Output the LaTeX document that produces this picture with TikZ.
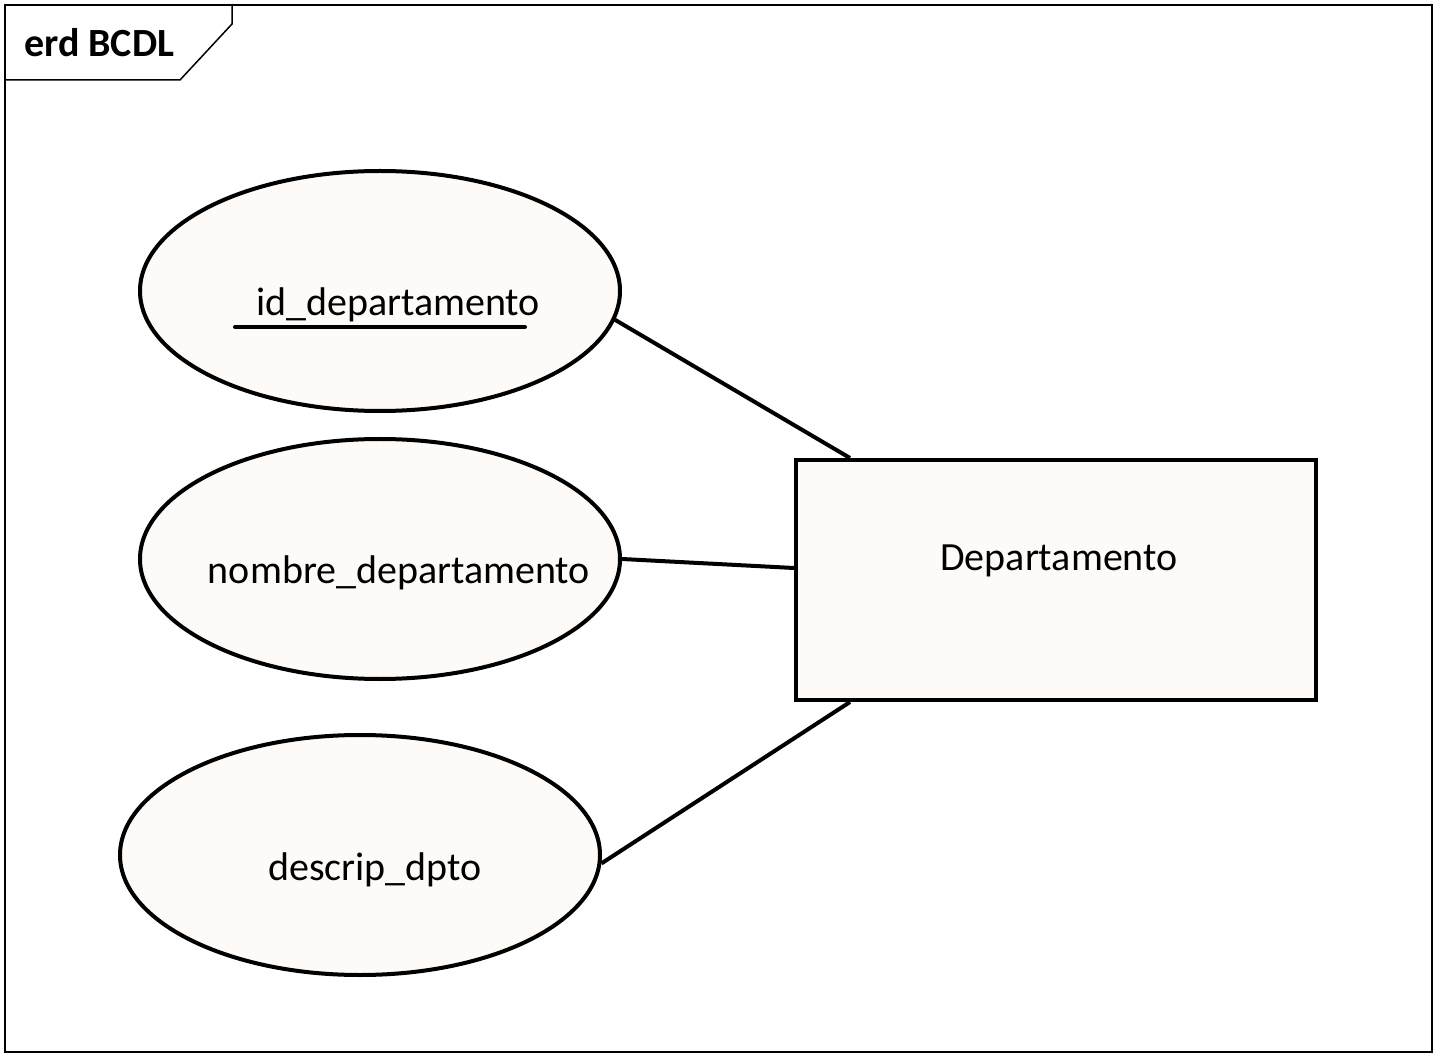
\documentclass[tikz,border=0pt]{standalone}
\usepackage{fontspec}
\setmainfont{Carlito}
\usepackage{tikz}
\usetikzlibrary{shapes.geometric,calc}

\definecolor{attrfill}{RGB}{253,250,247}

\tikzset{
    attr/.style={ellipse,draw=black,line width=4pt,fill=attrfill,
        minimum width=480pt,minimum height=240pt,inner sep=0pt},
    entity/.style={rectangle,draw=black,line width=4pt,fill=attrfill,
        minimum width=520pt,minimum height=240pt,inner sep=0pt},
    lbl/.style={inner sep=0pt,font=\fontsize{40}{46}\selectfont},
    conn/.style={draw=black,line width=4pt}
}

\begin{document}
\begin{tikzpicture}[x=1pt,y=-1pt]
\useasboundingbox (0,0) rectangle (1436,1056);
\begin{scope}
    % frame and tab
    \draw[black,line width=1.5pt] (5,5) rectangle (1432,1052);
    \draw[black,line width=1.5pt] (5,80) -- (180,80) -- (232,24) -- (232,5);
    \node[inner sep=0pt,anchor=west,font=\fontsize{40}{46}\selectfont\bfseries] (title) at (24,43) {erd BCDL};

    % attributes
    \node[attr] (idatt) at (380,291) {};
    \node[lbl] (idname) at (398,305) {id\_departamento};
    \draw[black,line width=4pt,line cap=round] (235,327) -- (525,327);

    \node[attr] (nomatt) at (380,559) {};
    \node[lbl] (nomname) at (399,573) {nombre\_departamento};

    \node[attr] (desatt) at (360,855) {};
    \node[lbl] (desname) at (375,870) {descrip\_dpto};

    % entity
    \node[entity] (dep) at (1056,580) {};
    \node[lbl] (depname) at (1059,561) {Departamento};

    % connectors
    \draw[conn] (idatt.-7) -- ($(dep.north west)+(56,0)$);
    \draw[conn] (nomatt.0) -- ($(dep.west)+(0,-12)$);
    \draw[conn] (desatt.-2) -- ($(dep.south west)+(56,0)$);
\end{scope}
\end{tikzpicture}
\end{document}
